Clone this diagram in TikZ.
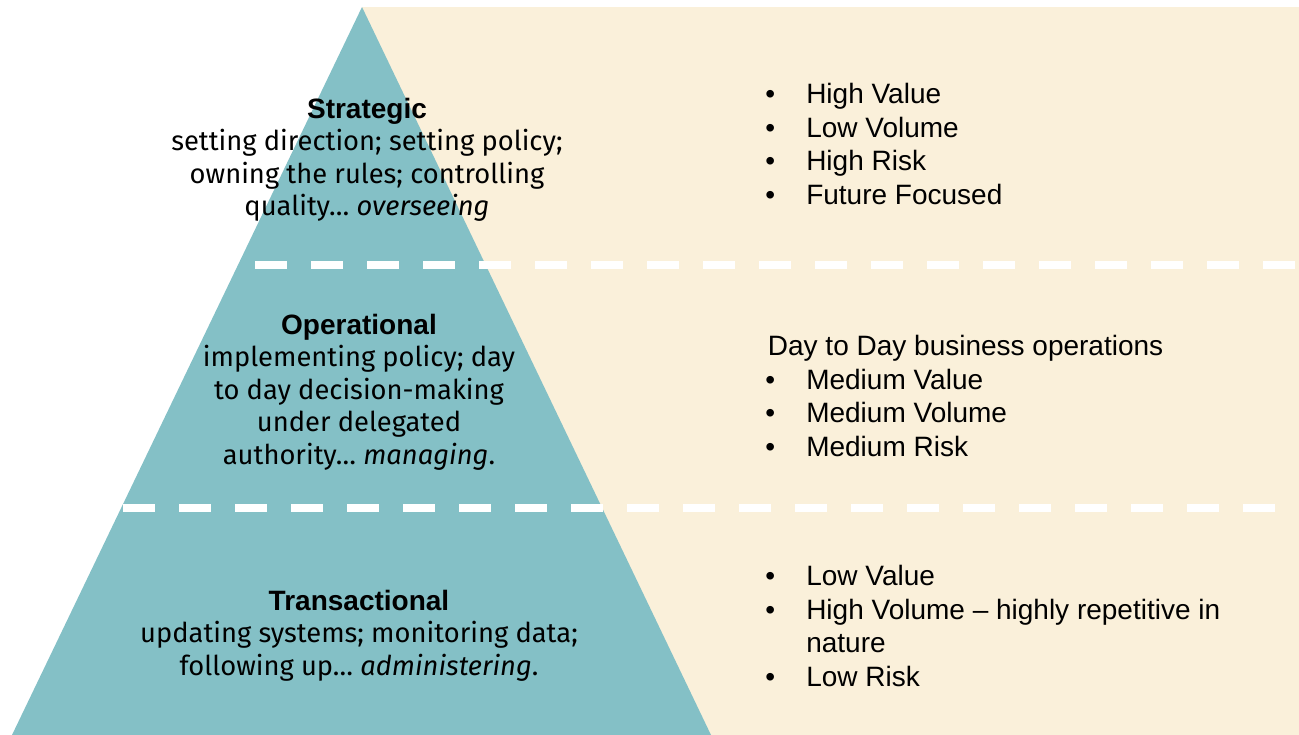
\documentclass[tikz,border=0pt]{standalone}
\usepackage{fontspec}
\setmainfont{Liberation Sans}
\newfontfamily\bodyfont{Fira Sans}
\usepackage{xcolor}
\usetikzlibrary{positioning}

\definecolor{pyrteal}{RGB}{132,192,198}
\definecolor{pyrcream}{RGB}{250,240,218}
\newcommand{\headfont}{\rmfamily\bfseries\fontsize{21}{24.4}\selectfont}
\newcommand{\blt}{\makebox[30.75pt][l]{\textbullet}}

\tikzset{
  tierlabel/.style={align=center, inner sep=0pt, font=\bodyfont\fontsize{20.5}{24.4}\selectfont},
  featurelist/.style={anchor=west, align=left, inner sep=0pt, font=\fontsize{21}{25.3}\selectfont},
  tierline/.style={white, line width=6pt, dash pattern=on 24pt off 18pt}
}

\begin{document}
\begin{tikzpicture}[x=0.75pt, y=-0.75pt]
    \useasboundingbox (0,0) rectangle (1299,735);
    % background and pyramid
    \fill[pyrcream] (362,7) rectangle (1299,735);
    \fill[pyrteal] (362,7) -- (12,735) -- (711,735) -- cycle;
    \draw[tierline] (255,265) -- (1295,265);
    \draw[tierline] (123,508) -- (1275,508);

    % tiers
    \node(strat) at (367,160) [tierlabel] {{\headfont Strategic}\\
      setting direction; setting policy;\\
      owning the rules; controlling\\
      quality… \textit{overseeing}};
    \node(oper) at (359,392) [tierlabel] {{\headfont Operational}\\
      implementing policy; day\\
      to day decision-making\\
      under delegated\\
      authority… \textit{managing}.};
    \node(trans) at (359,635.5) [tierlabel] {{\headfont Transactional}\\
      updating systems; monitoring data;\\
      following up… \textit{administering}.};

    % features
    \node(stratlist) at (765,144) [featurelist] {\blt High Value\\
      \blt Low Volume\\
      \blt High Risk\\
      \blt Future Focused};
    \node(operlist) at (765,396) [featurelist] {\hspace*{2pt}Day to Day business operations\\
      \blt Medium Value\\
      \blt Medium Volume\\
      \blt Medium Risk};
    \node(translist) at (765,626) [featurelist] {\blt Low Value\\
      \blt High Volume – highly repetitive in\\
      \hspace*{30.75pt}nature\\
      \blt Low Risk};
\end{tikzpicture}
\end{document}
